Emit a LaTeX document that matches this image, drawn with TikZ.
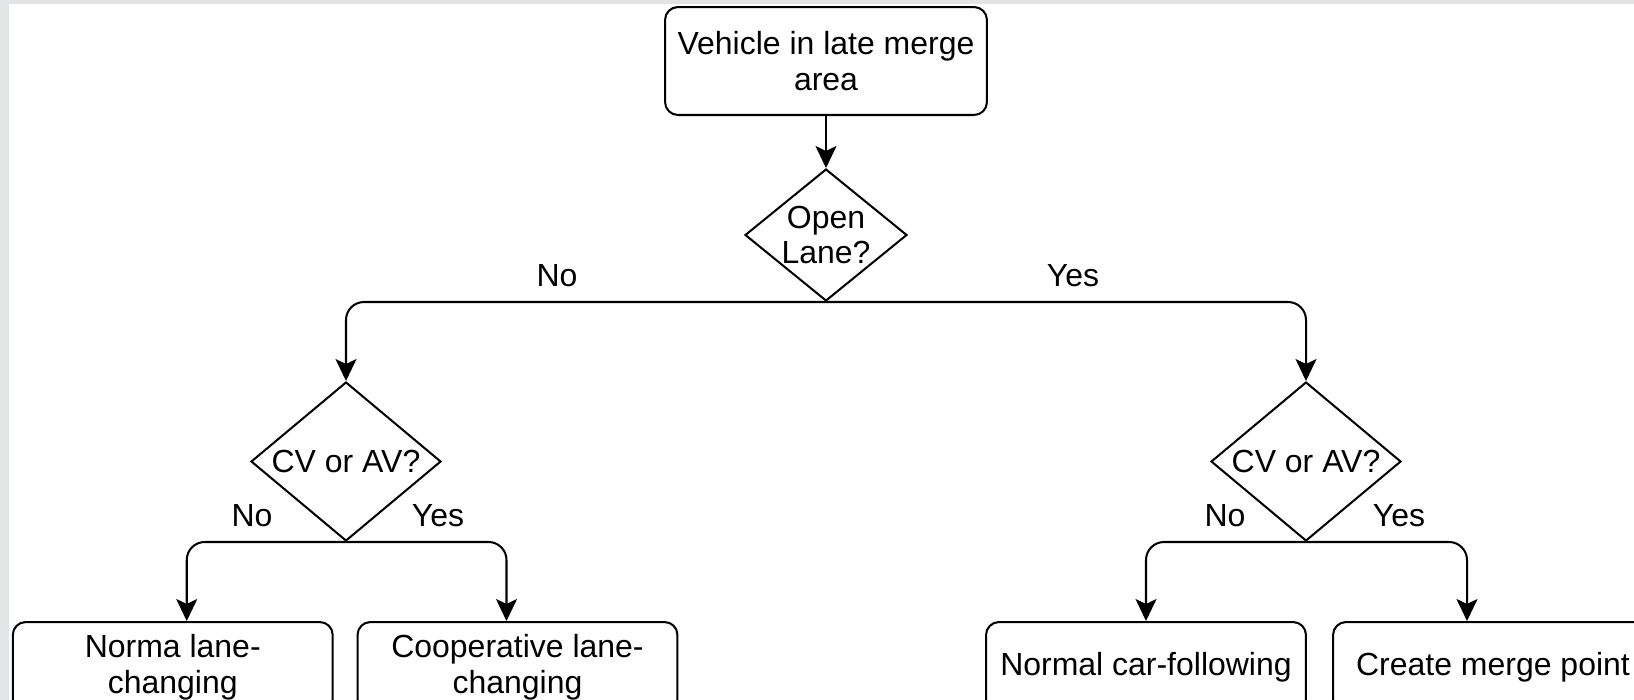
\documentclass[tikz,border=0pt]{standalone}
\usepackage{fontspec}
\setmainfont{Liberation Sans}
\usepackage{tikz}
\usetikzlibrary{shapes.geometric, arrows.meta, positioning}
\definecolor{bggray}{RGB}{226,228,229}
\tikzstyle{base} = [draw=black, line width=1.15pt, align=center, font=\fontsize{18.2pt}{20pt}\selectfont]
\tikzstyle{startbox} = [base, rectangle, rounded corners=0.26cm, minimum width=6.44cm, minimum height=2.16cm]
\tikzstyle{action} = [base, rectangle, rounded corners=0.26cm, minimum width=6.4cm, minimum height=1.8cm, font=\fontsize{18.2pt}{20.8pt}\selectfont]
\tikzstyle{decision} = [base, diamond, inner sep=-6pt]
\tikzstyle{edgelabel} = [inner sep=0pt, font=\fontsize{18.2pt}{20pt}\selectfont]
\tikzstyle{arrow} = [line width=1.15pt, rounded corners=0.36cm, ->, >={Stealth[length=0.44cm, width=0.42cm, inset=0.1cm]}]

\begin{document}
\begin{tikzpicture}[x=0.02cm, y=-0.02cm]
\useasboundingbox (0,0) rectangle (1634,700);
\clip (0,0) rectangle (1634,700);
\fill[bggray] (0,0) rectangle (1634,700);
\fill[white] (9,4) rectangle (1634,700);

% boxes and decisions
\node (start) [startbox] at (826,61) {Vehicle in late merge\\area};
\node (open) [decision, minimum width=3.24cm, minimum height=2.64cm] at (826,235) {Open\\Lane?};
\node (cvleft) [decision, minimum width=3.8cm, minimum height=3.18cm] at (346,461.5) {CV or AV?};
\node (cvright) [decision, minimum width=3.8cm, minimum height=3.18cm] at (1306,461.5) {CV or AV?};
\node (normlane) [action] at (172.75,667) {Norma lane-\\changing};
\node (cooplane) [action] at (517.5,667) {Cooperative lane-\\changing};
\node (carfollow) [action] at (1146,667) {Normal car-following};
\node (mergept) [action] at (1493,667) {Create merge point};

% connectors
\draw [arrow] (start) -- (open);
\draw [arrow] (open.south) -| (cvleft.north);
\draw [arrow] (open.south) -| (cvright.north);
\draw [arrow] (cvleft.south) -| ([xshift=0.28cm]normlane.north);
\draw [arrow] (cvleft.south) -| ([xshift=-0.22cm]cooplane.north);
\draw [arrow] (cvright.south) -| (carfollow.north);
\draw [arrow] (cvright.south) -| ([xshift=-0.52cm]mergept.north);

% labels
\node (noopen) [edgelabel] at (557,276) {No};
\node (yesopen) [edgelabel] at (1073,276) {Yes};
\node (noleft) [edgelabel] at (252,516) {No};
\node (yesleft) [edgelabel] at (438,516) {Yes};
\node (noright) [edgelabel] at (1225,516) {No};
\node (yesright) [edgelabel] at (1399,516) {Yes};
\end{tikzpicture}
\end{document}
